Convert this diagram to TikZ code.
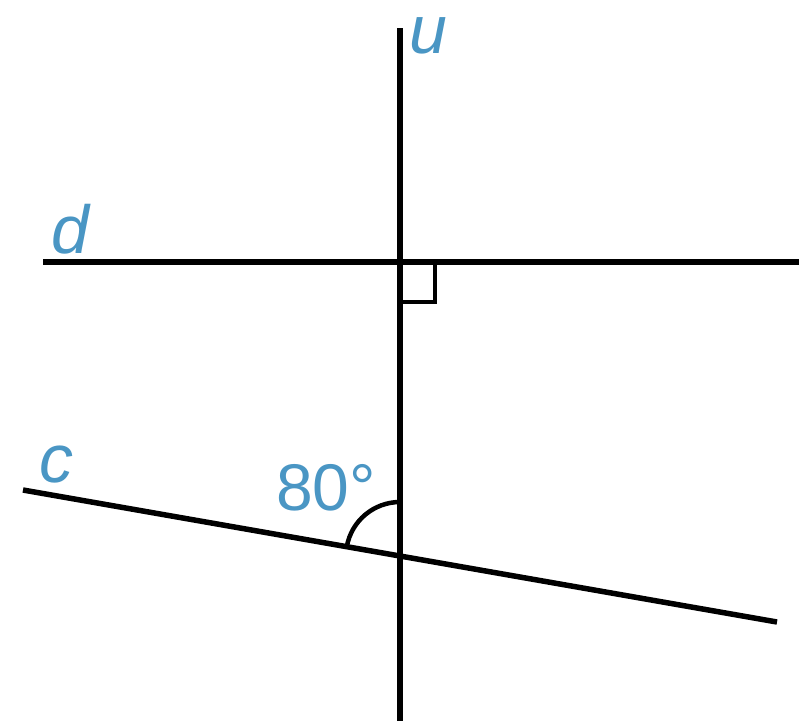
\documentclass[tikz,border=0pt]{standalone}
\usepackage{fontspec}
\setmainfont{Liberation Sans}
\usepackage{tikz}
\usetikzlibrary{calc}
\definecolor{lblblue}{RGB}{74,150,196}
\tikzset{
  glline/.style={draw=black,line width=5.5pt},
  glmark/.style={draw=black,line width=4.5pt},
  gllabel/.style={text=lblblue,font=\fontsize{68}{80}\selectfont\itshape,anchor=base,inner sep=0pt},
  glangle/.style={text=lblblue,font=\fontsize{66}{80}\selectfont,anchor=base,inner sep=0pt}
}
\begin{document}
\begin{tikzpicture}[x=1pt,y=1pt]
  \useasboundingbox (0,0) rectangle (799,-721);
  % end points of the three lines
  \coordinate (utop) at (400,-28);
  \coordinate (ubot) at (400,-721);
  \coordinate (dleft) at (43,-262);
  \coordinate (dright) at (799,-262);
  \coordinate (cleft) at (23,-490);
  \coordinate (cright) at (777,-622);
  \coordinate (du) at (400,-262);
  \coordinate (cu) at (400,-556);
  \draw[glline] (utop) -- (ubot);
  \draw[glline] (dleft) -- (dright);
  \draw[glline] (cleft) -- (cright);
  % right angle and the 80 degree arc
  \draw[glmark] ($(du)+(0,-40)$) -- ++(35,0) -- ++(0,40);
  \draw[glmark] ($(cu)+(90:54pt)$) arc[start angle=90,end angle=170,radius=54pt];
  \node[gllabel] (ulbl) at (428,-53) {u};
  \node[gllabel] (dlbl) at (70,-253) {d};
  \node[gllabel] (clbl) at (56,-482) {c};
  \node[glangle] (albl) at (326,-510) {80°};
\end{tikzpicture}
\end{document}
